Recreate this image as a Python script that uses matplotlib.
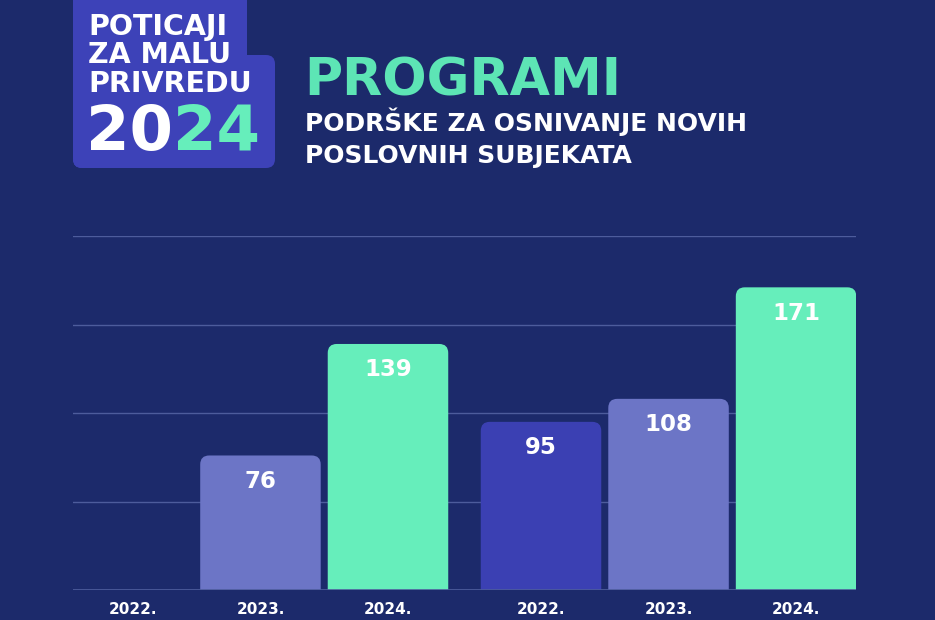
import numpy as np
import matplotlib
matplotlib.use("Agg")
import matplotlib.pyplot as plt
from matplotlib.patches import FancyBboxPatch

# ---- data ----
years = ["2022.", "2023.", "2024.", "2022.", "2023.", "2024."]
values = [np.nan, 76, 139, 95, 108, 171]
positions = [0, 1, 2, 3.2, 4.2, 5.2]
y_ticks = [0, 50, 100, 150, 200]

BG = "#1c2a6b"
C22 = "#3b40b3"
C23 = "#6c75c6"
C24 = "#66eebb"
colors = [C22, C23, C24, C22, C23, C24]
GRID = "#4d5c9c"

FONT = ["DejaVu Sans"]
plt.rcParams["font.family"] = FONT

W, H = 935, 620
fig = plt.figure(figsize=(W / 100, H / 100), dpi=100, facecolor=BG)

# decoration layer in pixel coords
deco = fig.add_axes([0, 0, 1, 1])
deco.set_xlim(0, W)
deco.set_ylim(H, 0)
deco.axis("off")
deco.set_facecolor(BG)

LOGO = "#3d42b8"
for (x0, y0, x1, y1) in [(73, -20, 247, 168), (73, 55, 275, 168)]:
    deco.add_patch(FancyBboxPatch((x0, y0), x1 - x0, y1 - y0,
                                  boxstyle="round,pad=0,rounding_size=9",
                                  fc=LOGO, ec="none"))
for txt, y in [("POTICAJI", 35), ("ZA MALU", 63), ("PRIVREDU", 92)]:
    deco.text(88, y, txt, color="white", fontsize=20.5, fontweight="bold",
              ha="left", va="baseline")
t20 = deco.text(86, 150, "20", color="white", fontsize=45, fontweight="bold",
                ha="left", va="baseline")
deco.annotate("24", xy=(1, 0), xycoords=t20, xytext=(0, 0), textcoords="offset points",
              color=C24, fontsize=45, fontweight="bold", ha="left", va="bottom")

deco.text(304, 95, "PROGRAMI", color="#5de5b5", fontsize=37.5, fontweight="bold",
          ha="left", va="baseline")
deco.text(305, 131, "PODRŠKE ZA OSNIVANJE NOVIH", color="white", fontsize=18,
          fontweight="bold", ha="left", va="baseline")
deco.text(305, 163, "POSLOVNIH SUBJEKATA", color="white", fontsize=18,
          fontweight="bold", ha="left", va="baseline")

# ---- chart ----
left, right = 73 / W, 856 / W
bottom, top = (H - 590) / H, (H - 236) / H
ax = fig.add_axes([left, bottom, right - left, top - bottom])
ax.set_facecolor("none")
ax.set_xlim(-0.47, 5.67)
ax.set_ylim(0, 200)
for s in ax.spines.values():
    s.set_visible(False)
ax.set_yticks(y_ticks)
ax.yaxis.grid(True, color=GRID, lw=1)
ax.set_axisbelow(True)
ax.tick_params(axis="y", length=0, labelleft=False)
ax.tick_params(axis="x", length=0, pad=9)
ax.set_xticks(positions)
ax.set_xticklabels(years, color="white", fontsize=11, fontweight="bold")

bars = ax.bar(positions, np.nan_to_num(values), width=0.945, color=colors)

fig.canvas.draw()
# data units per pixel
p0 = ax.transData.transform((0, 0))
p1 = ax.transData.transform((1, 1))
upx = 1 / (p1[0] - p0[0])
upy = 1 / (p1[1] - p0[1])
r_px = 9
for b, v, c in zip(bars, values, colors):
    b.set_visible(False)
    if np.isnan(v) or v == 0:
        continue
    x = b.get_x()
    w = b.get_width()
    h = b.get_height()
    patch = FancyBboxPatch((x, -r_px * upy * 2), w, h + r_px * upy * 2,
                           boxstyle=f"round,pad=0,rounding_size={r_px * upx}",
                           mutation_aspect=upy / upx, fc=c, ec="none", zorder=2)
    ax.add_patch(patch)
    ax.text(x + w / 2, h - 26 * upy, f"{int(v)}", color="white", fontsize=16.5,
            fontweight="bold", ha="center", va="center", zorder=3)

# baseline line
ax.axhline(0, color=GRID, lw=1.2, zorder=3)

fig.savefig("out.png", dpi=100, facecolor=BG)
